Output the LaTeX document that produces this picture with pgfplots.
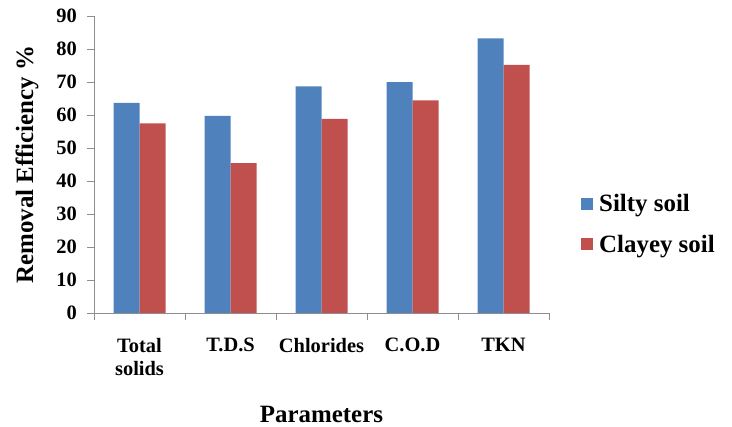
\documentclass[border=0pt]{standalone}
\usepackage{fontspec}
\setmainfont{Liberation Serif}
\usepackage{pgfplots}
\pgfplotsset{compat=1.18}
\definecolor{silty}{HTML}{4F81BD}
\definecolor{clayey}{HTML}{C0504D}
\definecolor{axgray}{HTML}{8E8E8E}
\begin{document}
\begin{tikzpicture}
\begin{axis}[
  at={(94bp,114bp)}, anchor=south west,
  scale only axis, width=455bp, height=297bp,
  ybar=0pt, bar width=26bp,
  xmin=-0.5, xmax=4.5, ymin=0, ymax=90,
  ytick={0,10,...,90},
  xtick={0,1,2,3,4},
  xticklabels={{Total\\solids},{T.D.S},{Chlorides},{C.O.D},{TKN}},
  minor xtick={-0.5,0.5,...,4.5},
  major x tick style={draw=none},
  minor tick length=7bp, major tick length=7bp,
  tick align=outside,
  axis x line*=bottom, axis y line*=left,
  axis line style={axgray, line width=0.9pt},
  tick style={axgray, line width=0.9pt},
  /pgf/number format/assume math mode=true,
  ticklabel style={font=\fontsize{20.5}{23}\selectfont\bfseries},
  xticklabel style={align=center, anchor=north, inner sep=0pt, yshift=-18bp},
  yticklabel style={anchor=east, inner sep=0pt, xshift=-10bp},
  ylabel={Removal Efficiency \%},
  xlabel={Parameters},
  every axis y label/.style={at={([xshift=-67bp]axis description cs:0,0.5)}, rotate=90, anchor=center,
    font=\fontsize{25}{30}\selectfont\bfseries},
  every axis x label/.style={at={(axis description cs:0.5,0)}, anchor=base, yshift=-109bp,
    font=\fontsize{25}{30}\selectfont\bfseries},
  legend style={at={(axis description cs:1,0.3)}, anchor=west, xshift=32bp, draw=none, fill=none,
    font=\fontsize{25}{30}\selectfont\bfseries, row sep=18bp, column sep=4bp, inner sep=0pt},
  legend cell align=left,
  legend image code/.code={\fill[#1,draw=none] (0bp,-6bp) rectangle (12bp,6bp);},
]
\addplot[fill=silty, draw=none] coordinates {(0,63.7) (1,59.7) (2,68.7) (3,70.0) (4,83.2)};
\addplot[fill=clayey, draw=none] coordinates {(0,57.5) (1,45.4) (2,58.8) (3,64.4) (4,75.2)};
\legend{Silty soil, Clayey soil}
\end{axis}
\pgfresetboundingbox
\path (0,0) rectangle (732bp,427bp);
\end{tikzpicture}
\end{document}
